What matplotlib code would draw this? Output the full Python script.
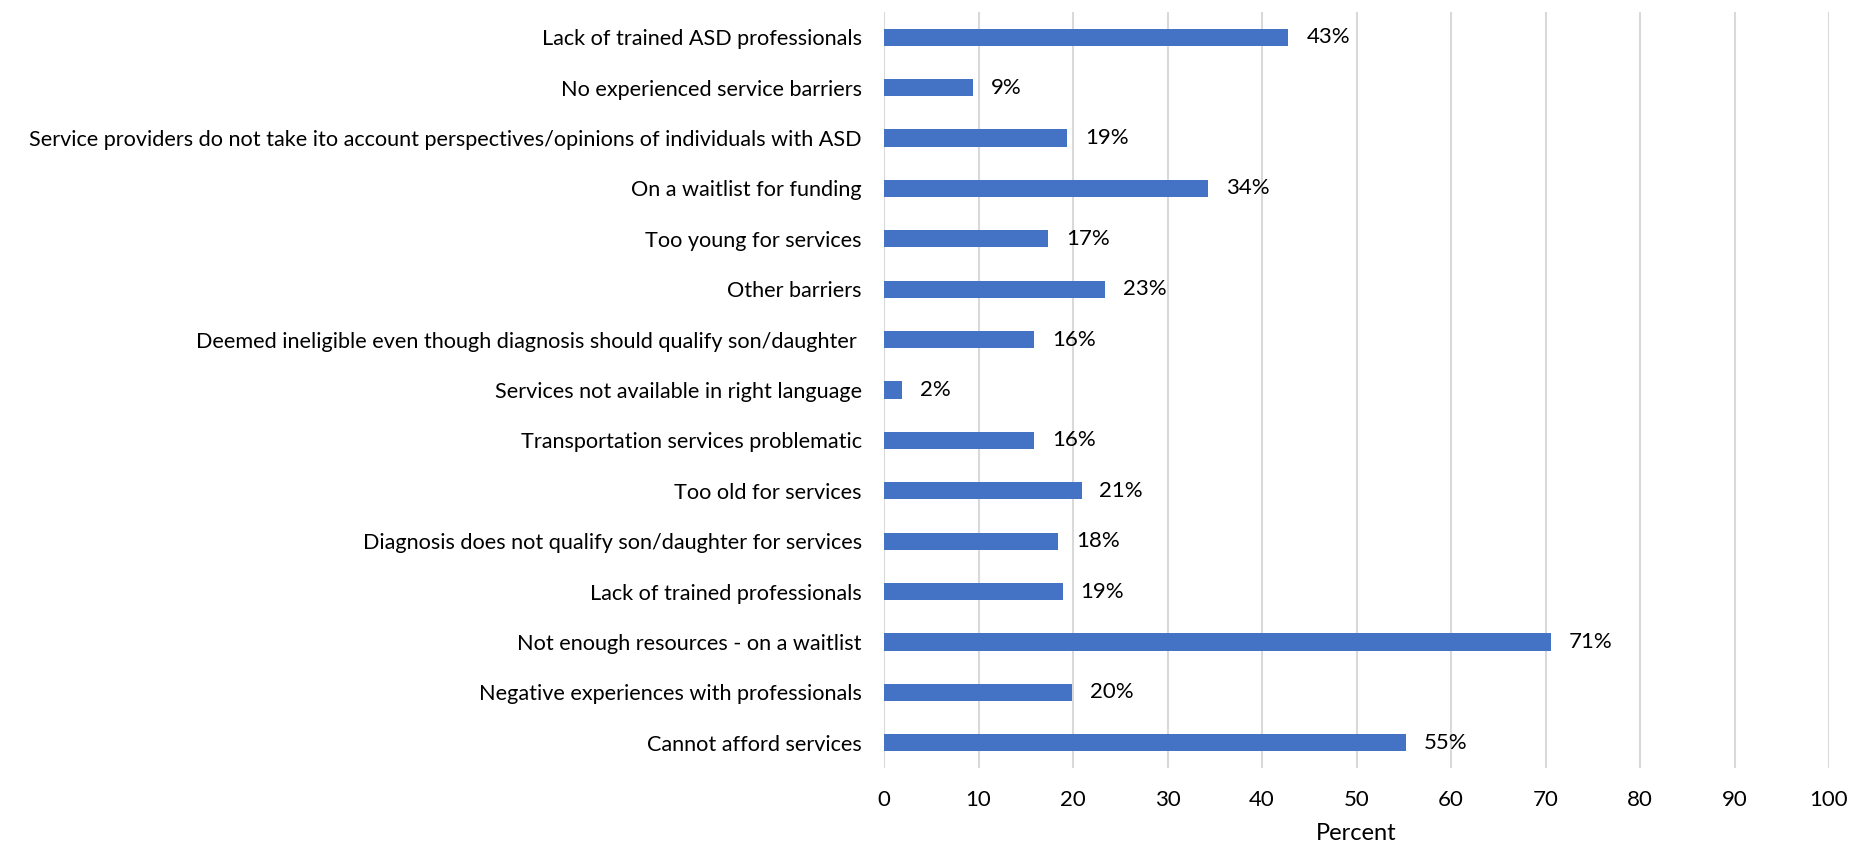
import numpy as np
import matplotlib.pyplot as plt

plt.rcParams['font.family'] = ['Lato', 'DejaVu Sans']

barriers = [
    'Lack of trained ASD professionals',
    'No experienced service barriers',
    'Service providers do not take ito account perspectives/opinions of individuals with ASD',
    'On a waitlist for funding',
    'Too young for services',
    'Other barriers',
    'Deemed ineligible even though diagnosis should qualify son/daughter ',
    'Services not available in right language',
    'Transportation services problematic',
    'Too old for services',
    'Diagnosis does not qualify son/daughter for services',
    'Lack of trained professionals',
    'Not enough resources - on a waitlist',
    'Negative experiences with professionals',
    'Cannot afford services',
]
percent = [42.8, 9.4, 19.4, 34.3, 17.4, 23.4, 15.9, 1.9, 15.9, 20.9, 18.4, 18.9, 70.6, 19.9, 55.2]
xticks = list(range(0, 101, 10))

fig = plt.figure(figsize=(18.5, 8.43), dpi=100)
ax = fig.add_axes([884 / 1850, 1 - 768 / 843, 945 / 1850, 756 / 843])

y = np.arange(len(barriers))
bars = ax.barh(y, percent, height=0.34, color='#4472C4', zorder=3)
for b, v in zip(bars, percent):
    ax.text(b.get_width() + 1.9, b.get_y() + b.get_height() / 2, f'{v:.0f}%',
            va='center', ha='left', fontsize=16, color='#000000')

ax.set_yticks(y)
ax.set_yticklabels(barriers, fontsize=15.6)
ax.set_ylim(len(barriers) - 0.5, -0.5)
ax.set_xlim(0, 100)
ax.set_xticks(xticks)
ax.set_xticklabels([str(t) for t in xticks], fontsize=16)
ax.tick_params(axis='both', length=0)
ax.tick_params(axis='y', pad=16)
ax.tick_params(axis='x', pad=16)
ax.grid(axis='x', color='#D9D9D9', linewidth=1.5, zorder=0)
for s in ax.spines.values():
    s.set_visible(False)
ax.set_xlabel('Percent', fontsize=17, labelpad=9)

fig.savefig('out.png', dpi=100, facecolor='white')
